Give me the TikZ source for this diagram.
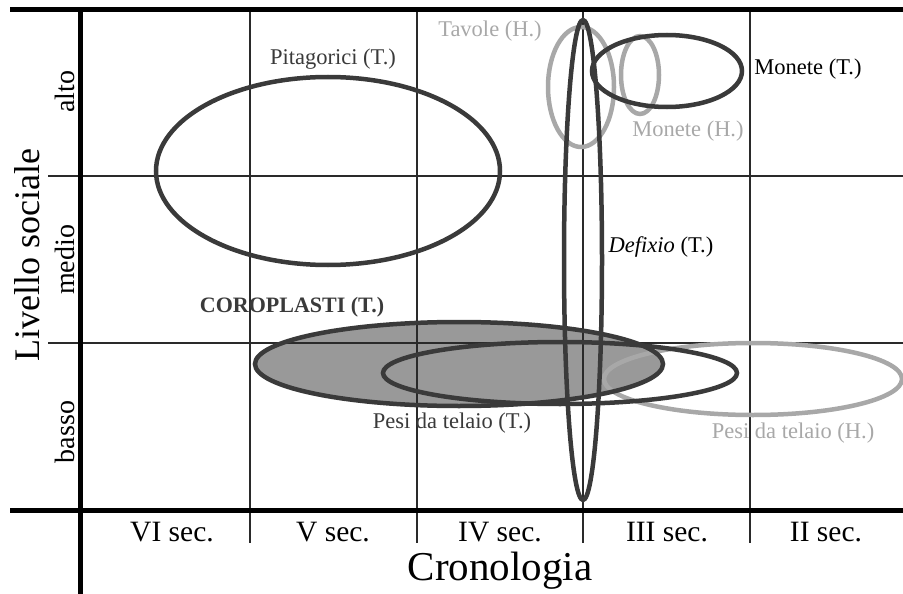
\documentclass[tikz,border=0pt]{standalone}
\usepackage{fontspec}
\setmainfont{Liberation Serif}
\definecolor{darkline}{HTML}{3A3A3A}
\definecolor{lightline}{HTML}{A8A8A8}
\definecolor{fillgray}{HTML}{999999}
\definecolor{gridcol}{HTML}{2A2A2A}
\tikzset{
  axisline/.style={line width=5pt, black},
  gridline/.style={line width=1.4pt, gridcol},
  tell/.style={draw=darkline, line width=4.5pt},
  hell/.style={draw=lightline, line width=4.5pt},
  tlabel/.style={text=darkline, font=\fontsize{22.5}{26}\selectfont, inner sep=0pt},
  hlabel/.style={text=lightline, font=\fontsize{22.5}{26}\selectfont, inner sep=0pt},
  collabel/.style={font=\fontsize{29.5}{32}\selectfont, inner sep=0pt},
  rowlabel/.style={font=\fontsize{28}{30}\selectfont, inner sep=0pt, rotate=90},
  axistitle/.style={inner sep=0pt}
}
\begin{document}
\begin{tikzpicture}[x=1pt, y=-1pt]
\useasboundingbox (0,0) rectangle (903,594);
% filled coroplasti area (under the grid)
\fill[fillgray] (459,364) ellipse [x radius=204pt, y radius=42pt];
% grid
\foreach \gx in {250,417,583,750} \draw[gridline] (\gx,10) -- (\gx,543);
\foreach \gy in {176,343} \draw[gridline] (48,\gy) -- (903,\gy);
% axes
\draw[axisline] (10,10) -- (903,10);
\draw[axisline] (10,510) -- (903,510);
\draw[axisline] (80,10) -- (80,594);
% light (H.) ellipses
\draw[hell] (753,379) ellipse [x radius=149pt, y radius=36pt];
\draw[hell] (581,87) ellipse [x radius=33pt, y radius=60pt];
\draw[hell] (640,75) ellipse [x radius=19pt, y radius=39pt];
% dark (T.) ellipses
\draw[tell] (328,171) ellipse [x radius=172pt, y radius=94pt];
\draw[tell] (459,364) ellipse [x radius=204pt, y radius=42pt];
\draw[tell] (560,373) ellipse [x radius=177pt, y radius=31pt];
\draw[tell] (667,71) ellipse [x radius=75pt, y radius=36pt];
\draw[tell] (583,260) ellipse [x radius=19pt, y radius=240pt];
% labels
\node[tlabel] (pit) at (333,59) {Pitagorici (T.)};
\node[hlabel] (tav) at (490,31) {Tavole (H.)};
\node[tlabel, text=black] (monT) at (808,69) {Monete (T.)};
\node[hlabel] (monH) at (688,131) {Monete (H.)};
\node[tlabel, text=black] (def) at (661,247) {\textit{Defixio} (T.)};
\node[tlabel, font=\fontsize{22}{26}\selectfont\bfseries] (cor) at (292,307) {COROPLASTI (T.)};
\node[tlabel] (pesT) at (452,423) {Pesi da telaio (T.)};
\node[hlabel] (pesH) at (793,433) {Pesi da telaio (H.)};
% row labels
\node[rowlabel] (alto) at (65,92) {alto};
\node[rowlabel] (medio) at (65,260) {medio};
\node[rowlabel] (basso) at (65,432) {basso};
\node[axistitle, font=\fontsize{36}{40}\selectfont, rotate=90] (liv) at (27,255) {Livello sociale};
% column labels
\node[collabel] (c6) at (172,532) {VI sec.};
\node[collabel] (c5) at (333,532) {V sec.};
\node[collabel] (c4) at (500,532) {IV sec.};
\node[collabel] (c3) at (667,532) {III sec.};
\node[collabel] (c2) at (826,532) {II sec.};
\node[axistitle, font=\fontsize{41}{46}\selectfont] (cro) at (500,571) {Cronologia};
\end{tikzpicture}
\end{document}
